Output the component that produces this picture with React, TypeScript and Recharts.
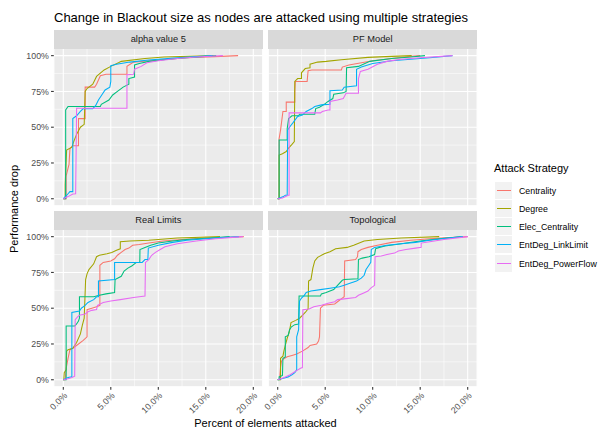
import React from "react";
import { LineChart, Line, XAxis, YAxis, CartesianGrid } from "recharts";

const strategies = ["Centrality", "Degree", "Elec_Centrality", "EntDeg_LinkLimit", "EntDeg_PowerFlow"];
const strategyColors = ["#F8766D", "#A3A500", "#00BF7D", "#00B0F6", "#E76BF3"];
const panelTitles = ["alpha value 5", "PF Model", "Real Limits", "Topological"];
const xTicks = [0, 5, 10, 15, 20];
const xMinorTicks = [2.5, 7.5, 12.5, 17.5];
const yTicks = [0, 25, 50, 75, 100];
const yMinorTicks = [12.5, 37.5, 62.5, 87.5];

// [percent attacked, performance drop %]
// alpha value 5
const alphaCentrality = [[0,0],[0.3,0],[0.3,16],[0.6,24],[0.7,35],[1.0,37],[1.6,37],[1.6,56],[2.3,56],[2.3,78],[3.3,78],[3.5,80],[3.9,86],[4.5,87],[6.7,87],[6.7,92.5],[7.4,95.5],[10,97],[13,98.5],[16,99.3],[18.4,100]];
const alphaDegree = [[0,0],[0.2,0],[0.2,10],[0.35,34],[0.9,36],[1.1,40],[1.4,45],[1.8,50],[2.2,52],[2.3,75],[2.5,77],[3.1,80],[3.5,85.5],[4.3,90],[5.0,92.5],[5.8,95],[6.1,96],[8.6,98],[10.6,99],[15.8,100]];
const alphaElec = [[0,0],[0.25,0],[0.25,62],[0.5,64.5],[3.9,64.5],[4.0,66],[4.8,69],[5.2,72.5],[5.7,75],[6.3,78],[6.9,80],[6.9,84],[7.5,85],[7.5,93.5],[8.0,94.5],[9,96],[11,97.5],[13,98.5],[16.1,100]];
const alphaLink = [[0,0],[0.3,2],[0.5,3.5],[0.7,5],[1.0,5],[1.0,56],[1.4,58],[1.8,61],[2.1,63],[3.1,63],[3.4,65],[3.7,69],[4.1,73],[4.4,76],[4.9,78],[5.0,82],[5.0,93],[5.6,94],[7,95.5],[9,97],[12,98.5],[15.7,100]];
const alphaPower = [[0,0],[0.5,1.5],[1.0,3.3],[1.3,3.5],[1.4,63.3],[6.7,63.3],[6.7,86.7],[7.4,87],[7.5,90.5],[8.2,92.5],[8.8,95],[10,96.5],[12,98],[14,99],[16.8,100]];

// PF Model
const pfCentrality = [[0,0],[0.15,0],[0.15,42],[0.3,48],[0.55,61],[0.9,61],[0.9,67.5],[1.8,67.5],[1.8,75],[1.85,82],[3.1,82],[3.2,89.5],[3.6,90],[6.7,90],[6.8,92],[7.5,93.5],[10,96.5],[12,98],[14,99.5],[15,100]];
const pfDegree = [[0,0],[0.15,0],[0.15,30.5],[0.5,31.5],[0.9,33],[1.1,35],[1.5,38],[1.75,40],[1.8,82],[2.1,84],[2.5,84],[2.5,88],[2.9,91],[3.4,91.5],[3.4,94],[4.2,95.5],[5.1,96],[6.7,97.2],[9.5,98.8],[12,99.5],[14.1,100]];
const pfElec = [[0,0],[0.15,0],[0.15,41],[1.0,41],[1.0,49],[1.15,56],[1.5,58],[2.2,58],[2.3,59],[3.9,59],[4.0,63],[4.4,64],[4.9,66],[5.3,68],[5.8,70],[5.9,73],[6.9,74],[7.2,75],[7.25,91.5],[8.5,92.5],[9.7,96],[12,98],[14,99],[15.5,100]];
const pfLink = [[0,0],[0.6,1.5],[0.8,2.5],[1.0,2.5],[1.05,48],[1.3,50.5],[1.6,53],[2.1,57.5],[2.6,58.5],[3.0,61],[3.6,63],[3.9,64.5],[4.6,65.6],[5.5,66],[5.5,75.5],[6.8,76],[7.0,78],[8.3,79],[8.3,90.5],[8.8,92],[10,94.5],[12,96.5],[14,97.5],[16,98.5],[18.4,100]];
const pfPower = [[0,0],[0.5,0.5],[1.1,2.5],[1.2,2.5],[1.2,60],[4.5,60],[4.7,61],[5.3,62],[5.5,62],[5.5,68],[6.3,69],[6.9,70],[7.2,73.7],[8.5,73.7],[8.5,84],[8.7,89],[9.5,90.5],[10.5,94],[11.5,96],[13,97.5],[15,98.5],[18.4,100]];

// Real Limits
const rlCentrality = [[0,0],[0.2,0],[0.3,8],[0.5,15],[0.7,21],[1.0,22],[1.6,25],[2.1,27.5],[2.5,30],[2.5,49],[3.0,50],[3.5,51],[3.85,52],[3.85,80],[4.2,82],[5.0,83],[5.4,84.5],[5.7,87],[6.1,89],[6.5,91],[6.9,92],[7.3,94],[8.0,94.5],[9,95.5],[10.5,97],[12.5,98],[15,99],[19,100]];
const rlDegree = [[0,0],[0.05,0],[0.1,5],[0.3,7],[0.35,20],[0.5,21],[1.0,22],[1.4,26],[1.8,32],[2.0,38],[2.2,43],[2.35,70],[2.5,74],[2.7,77],[3.2,81],[3.5,86],[3.8,87],[4.6,88],[5.1,89],[5.6,90.5],[6.0,91.5],[6.0,96.4],[7.0,97],[9,97.5],[12,99],[16.5,100]];
const rlElec = [[0,0],[0.3,0],[0.3,37.5],[1.2,37.5],[1.4,39],[1.6,41],[1.7,43],[1.7,58],[3.2,58],[3.8,59],[4.5,60],[5.4,61],[5.45,70],[6.1,72.3],[6.4,76],[6.8,78],[7.2,79.5],[7.7,82],[8.05,82],[8.07,91],[8.6,92.5],[9.2,94],[10,95.5],[11.5,97],[13,98],[15.5,99],[17.5,100]];
const rlLink = [[0,0],[0.5,1.5],[0.9,2],[0.9,47],[1.7,48],[1.9,50],[2.3,52],[2.6,54],[3.2,56],[3.5,58],[3.7,58],[3.7,69],[5.4,70],[5.4,82],[8.3,82],[8.6,84],[8.9,84],[8.95,92],[10,94],[11.5,96],[13,97.5],[16,99],[18.5,100]];
const rlPower = [[0,0],[0.5,0.7],[0.9,1.5],[1.2,2.5],[1.25,42],[1.5,44],[1.7,45],[2.3,46],[2.6,47.5],[3.0,48.5],[3.5,49],[3.6,52],[4.2,54],[5.0,55],[6.0,56],[7.4,57.5],[8.0,58],[8.6,58.5],[8.65,82],[9.0,84],[9.3,87],[9.7,89],[10.2,91],[10.7,93],[12,95],[14,97],[16,98.5],[18.9,100]];

// Topological
const topoCentrality = [[0,0],[0.2,0.5],[0.3,9],[0.4,13],[0.6,14.5],[1.0,16],[1.5,17],[2.0,18],[2.6,20],[3.2,22.5],[3.4,24],[4.1,25],[4.3,27],[4.4,30],[4.5,50],[4.8,52],[6.0,53],[6.4,55],[6.8,57],[7.0,58],[7.05,83],[8.2,84],[8.4,86],[8.45,89.5],[8.8,91],[9.5,92.5],[10.5,94],[12,96],[14,97.5],[16,98.5],[18,99.3],[20,100]];
const topoDegree = [[0,0],[0.3,0],[0.3,15],[0.55,16.5],[0.65,20],[0.8,24],[1.0,29],[1.2,33],[1.35,38],[1.4,40],[1.9,41.5],[2.3,43],[2.6,45],[2.9,47],[3.2,49.5],[3.25,69],[3.5,70],[3.7,78],[3.9,83],[4.2,85.5],[4.9,88],[5.5,89.5],[6.1,91.5],[7.3,92.5],[8.0,94],[9.1,97],[10.5,98],[13,99],[17,100]];
const topoElec = [[0,0],[0.15,0],[0.15,2],[0.5,3],[0.55,15],[0.8,16],[0.8,30],[1.1,31],[1.25,35],[1.45,37],[1.8,38.5],[2.2,39],[2.25,58.5],[4.5,58.5],[4.6,60],[5.1,61],[5.5,62],[5.9,63],[6.3,66],[6.8,69.5],[7.0,70],[8.45,70.5],[8.5,84],[8.9,85],[9.6,86],[10.2,87.5],[10.3,91.5],[10.7,92.5],[11.3,93.5],[13,95],[15,97],[17,98.5],[19.5,100]];
const topoLink = [[0,0],[0.6,1],[1.1,2],[1.5,3.5],[1.8,5],[2.0,7],[2.0,30],[2.2,35],[2.3,55],[2.5,57],[2.8,59],[3.0,61],[3.5,62],[4.5,63],[5.5,64],[6.5,65],[7.0,66],[7.6,67.5],[8.3,69],[8.8,71],[9.1,73],[9.3,77],[9.6,80],[9.8,82],[9.85,91],[10.2,92.5],[11.5,94],[13,95],[14.5,96],[16,97.5],[18,99],[19.5,100]];
const topoPower = [[0,0],[0.7,1.5],[1.3,3.5],[1.9,6],[2.4,8],[2.6,8.5],[2.65,49],[3.3,49.5],[3.8,51],[4.6,52],[5.3,53.5],[6.0,54.5],[6.3,56],[7.0,56.5],[8.2,57.5],[8.5,59],[9.0,60.5],[9.5,62],[9.8,64],[10.2,66],[10.25,86],[10.9,86.5],[11.5,87.5],[12.3,88.5],[12.7,90],[13.5,91],[14.5,92],[15.1,92.5],[15.1,95.5],[16,96.5],[17.5,98],[20,100]];

const W = 602;
const H = 430;
const PW = 209; // panel width
const PH = 157.4; // panel height
const STRIP_H = 18.5;
const Y_AXIS_W = 40;
const X_AXIS_H = 40;
const FONT = "'Liberation Sans', Arial, Helvetica, sans-serif";

const toPoints = (arr: number[][]) => arr.map(([x, y]) => ({ x, y }));

const panels = [
  { title: panelTitles[0], series: [alphaCentrality, alphaDegree, alphaElec, alphaLink, alphaPower], left: 53.8, top: 48.5, showX: false, showY: true },
  { title: panelTitles[1], series: [pfCentrality, pfDegree, pfElec, pfLink, pfPower], left: 268.2, top: 48.5, showX: false, showY: false },
  { title: panelTitles[2], series: [rlCentrality, rlDegree, rlElec, rlLink, rlPower], left: 53.8, top: 229.5, showX: true, showY: true },
  { title: panelTitles[3], series: [topoCentrality, topoDegree, topoElec, topoLink, topoPower], left: 268.2, top: 229.5, showX: true, showY: false },
];

const XTick = (props: any) => {
  const { x, y, payload } = props;
  return (
    <text
      x={x}
      y={y}
      transform={`rotate(-45 ${x} ${y})`}
      textAnchor="end"
      dy="0.72em"
      fontSize={8.8}
      fill="#4D4D4D"
      fontFamily={FONT}
    >
      {Number(payload.value).toFixed(1)}%
    </text>
  );
};

const Panel = ({ p }: { p: any }) => {
  const margin = {
    top: p.top,
    left: p.showY ? p.left - Y_AXIS_W : p.left,
    right: W - p.left - PW,
    bottom: H - p.top - PH - (p.showX ? X_AXIS_H : 0),
  };
  return (
    <div style={{ position: "absolute", left: 0, top: 0 }}>
      <LineChart width={W} height={H} margin={margin}>
        <XAxis xAxisId="minor" type="number" dataKey="x" domain={[-1, 21]} ticks={xMinorTicks} allowDataOverflow hide />
        <YAxis yAxisId="minor" type="number" domain={[-5, 105]} ticks={yMinorTicks} allowDataOverflow hide />
        <CartesianGrid xAxisId="minor" yAxisId="minor" stroke="#FFFFFF" strokeWidth={0.55} fill="#EBEBEB" />
        <CartesianGrid stroke="#FFFFFF" strokeWidth={1.07} />
        <XAxis
          type="number"
          dataKey="x"
          domain={[-1, 21]}
          ticks={xTicks}
          allowDataOverflow
          hide={!p.showX}
          height={X_AXIS_H}
          axisLine={false}
          tickSize={2.75}
          tickMargin={2.2}
          tickLine={{ stroke: "#333333", strokeWidth: 1.07 }}
          tick={<XTick />}
        />
        <YAxis
          type="number"
          domain={[-5, 105]}
          ticks={yTicks}
          allowDataOverflow
          hide={!p.showY}
          width={Y_AXIS_W}
          axisLine={false}
          tickSize={2.75}
          tickMargin={2.2}
          tickLine={{ stroke: "#333333", strokeWidth: 1.07 }}
          tick={{ fontSize: 8.8, fill: "#4D4D4D", fontFamily: FONT }}
          tickFormatter={(v: number) => `${v}%`}
        />
        {p.series.map((s: number[][], i: number) => (
          <Line
            key={strategies[i]}
            data={toPoints(s)}
            dataKey="y"
            type="linear"
            stroke={strategyColors[i]}
            strokeWidth={1.07}
            dot={false}
            activeDot={false}
            isAnimationActive={false}
          />
        ))}
      </LineChart>
    </div>
  );
};

const App = () => {
  return (
    <div
      style={{
        position: "absolute",
        left: 0,
        top: 0,
        width: W,
        height: H,
        background: "#FFFFFF",
        fontFamily: FONT,
        overflow: "hidden",
      }}
    >
      <div style={{ position: "absolute", left: 54, top: 10, fontSize: 13, lineHeight: "15px", color: "#000" }}>
        Change in Blackout size as nodes are attacked using multiple strategies
      </div>

      {panels.map((p) => (
        <Panel key={p.title} p={p} />
      ))}

      {panels.map((p) => (
        <div
          key={p.title + "-strip"}
          style={{
            position: "absolute",
            left: p.left,
            top: p.top - STRIP_H,
            width: PW,
            height: STRIP_H,
            background: "#D9D9D9",
            color: "#1A1A1A",
            fontSize: 9.3,
            display: "flex",
            alignItems: "center",
            justifyContent: "center",
          }}
        >
          {p.title}
        </div>
      ))}

      <div
        style={{
          position: "absolute",
          left: 54,
          width: 423,
          top: 417,
          textAlign: "center",
          fontSize: 11,
          lineHeight: "13px",
          color: "#000",
        }}
      >
        Percent of elements attacked
      </div>
      <div
        style={{
          position: "absolute",
          left: 14,
          top: 209,
          transform: "translate(-50%, -50%) rotate(-90deg)",
          fontSize: 11,
          lineHeight: "13px",
          whiteSpace: "nowrap",
          color: "#000",
        }}
      >
        Performance drop
      </div>

      <div style={{ position: "absolute", left: 494, top: 162, fontSize: 11, lineHeight: "13px", color: "#000" }}>
        Attack Strategy
      </div>
      {strategies.map((name, i) => (
        <div
          key={name}
          style={{ position: "absolute", left: 495, top: Math.round(181.5 + i * 18.3), height: 17, display: "flex", alignItems: "center" }}
        >
          <div style={{ width: 17, height: 17, background: "#F2F2F2", position: "relative" }}>
            <div style={{ position: "absolute", left: 1.5, right: 1.5, top: 8, height: 1, background: strategyColors[i] }} />
          </div>
          <div style={{ marginLeft: 7, fontSize: 8.8, color: "#000", whiteSpace: "nowrap" }}>{name}</div>
        </div>
      ))}
    </div>
  );
};

export default App;
